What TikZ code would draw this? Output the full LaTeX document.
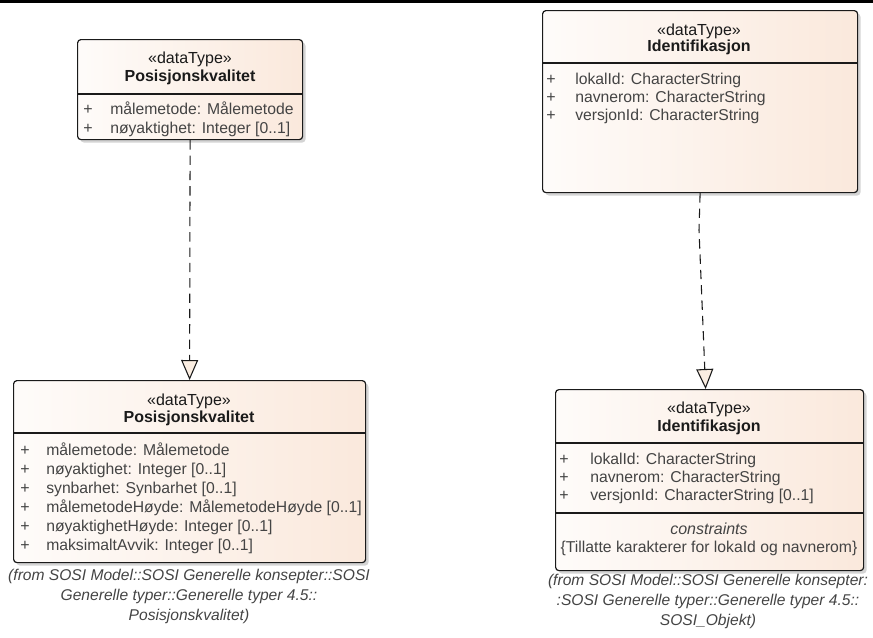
\documentclass[tikz,border=0pt]{standalone}
\usepackage{fontspec}
\setmainfont{Liberation Sans}
\usepackage{tikz}
\usetikzlibrary{arrows.meta,positioning,shadows,calc}
\definecolor{umlpeach}{HTML}{F8DFCD}
\definecolor{umlcream}{HTML}{FBEEE2}
\definecolor{umlink}{HTML}{1A1A1A}
\definecolor{umltext}{HTML}{444444}
\pgfdeclarehorizontalshading{umlfill}{100bp}{color(0bp)=(umlpeach!75); color(16bp)=(white); color(100bp)=(umlpeach)}
\tikzset{
  classbox/.style={draw=umlink,line width=0.9pt,rounded corners=2.5pt,shading=umlfill,
    anchor=north west,inner sep=0pt,
    drop shadow={shadow xshift=2.2pt,shadow yshift=-2.2pt,opacity=0.28,fill=black!60}},
  stereo/.style={anchor=mid,inner sep=0pt,text=umlink},
  cname/.style={anchor=mid,inner sep=0pt,text=umlink,font=\fontsize{12}{14}\selectfont\bfseries},
  attr/.style={anchor=mid west,inner sep=0pt,text=umltext,font=\fontsize{11.8}{14}\selectfont},
  vis/.style={anchor=mid,inner sep=0pt,text=umltext},
  capt/.style={anchor=north,inner sep=0pt,align=center,text=umltext,font=\fontsize{11.7}{15}\selectfont\itshape},
  realize/.style={draw=umlink,line width=0.8pt,dash pattern=on 7pt off 4.5pt,
    -{Triangle[length=15pt,width=12.75pt,fill=umlcream]}},
  every node/.style={font=\fontsize{12}{14}\selectfont}
}
\begin{document}
\begin{tikzpicture}[x=0.75pt,y=-0.75pt]
  \useasboundingbox (0,0) rectangle (873,637);
  \draw[line width=1.6pt] (0,1.5) -- (873,1.5);

  % upper left: Posisjonskvalitet
  \node[classbox,minimum width=168.75pt,minimum height=75pt] (posA) at (77,39) {};
  \draw[umlink,line width=0.8pt] (posA.west |- 0,94) -- (posA.east |- 0,94);
  \node[stereo] (posAst) at (190,60) {«dataType»};
  \node[cname] (posAnm) at (190,78) {Posisjonskvalitet};
  \node[vis] at (88,111) {+};
  \node[attr] at (110,111) {målemetode: Målemetode};
  \node[vis] at (88,130) {+};
  \node[attr] at (110,130) {nøyaktighet: Integer [0..1]};

  % upper right: Identifikasjon
  \node[classbox,minimum width=236.25pt,minimum height=136.5pt] (idA) at (542,10) {};
  \draw[umlink,line width=0.8pt] (idA.west |- 0,63) -- (idA.east |- 0,63);
  \node[stereo] (idAst) at (699,32) {«dataType»};
  \node[cname] (idAnm) at (699,48) {Identifikasjon};
  \foreach \yy/\txt in {81/lokalId: CharacterString,99/navnerom: CharacterString,117/versjonId: CharacterString}{
    \node[vis] at (551,\yy) {+};
    \node[attr] at (575,\yy) {\txt};
  }

  % lower left: Posisjonskvalitet (SOSI Generelle typer)
  \node[classbox,minimum width=264pt,minimum height=136.5pt] (posB) at (13,380) {};
  \draw[umlink,line width=0.8pt] (posB.west |- 0,433) -- (posB.east |- 0,433);
  \node[stereo] (posBst) at (189,402) {«dataType»};
  \node[cname] (posBnm) at (189,419) {Posisjonskvalitet};
  \foreach \yy/\txt in {452/målemetode: Målemetode,
                        470.5/nøyaktighet: Integer [0..1],
                        489.5/synbarhet: Synbarhet [0..1],
                        508.5/målemetodeHøyde: MålemetodeHøyde [0..1],
                        528/nøyaktighetHøyde: Integer [0..1],
                        547/maksimaltAvvik: Integer [0..1]}{
    \node[vis] at (25,\yy) {+};
    \node[attr] at (46,\yy) {\txt};
  }
  \node[capt] (posBcap) at (189,569) {(from SOSI Model::SOSI Generelle konsepter::SOSI\\
    Generelle typer::Generelle typer 4.5::\\ Posisjonskvalitet)};

  % lower right: Identifikasjon (SOSI_Objekt)
  \node[classbox,minimum width=231pt,minimum height=135.75pt] (idB) at (555,389) {};
  \draw[umlink,line width=0.8pt] (idB.west |- 0,443) -- (idB.east |- 0,443);
  \draw[umlink,line width=0.8pt] (idB.west |- 0,513) -- (idB.east |- 0,513);
  \node[stereo] (idBst) at (709,410) {«dataType»};
  \node[cname] (idBnm) at (709,428) {Identifikasjon};
  \foreach \yy/\txt in {461/lokalId: CharacterString,479/navnerom: CharacterString,497/versjonId: CharacterString [0..1]}{
    \node[vis] at (564,\yy) {+};
    \node[attr] at (590,\yy) {\txt};
  }
  \node[stereo,text=umltext,font=\fontsize{12}{14}\selectfont\itshape] (idBcon) at (709,531) {constraints};
  \node[stereo,text=umltext,font=\fontsize{11.8}{14}\selectfont] (idBrule) at (709,549) {\{Tillatte karakterer for lokaId og navnerom\}};
  \node[capt] (idBcap) at (708,574) {(from SOSI Model::SOSI Generelle konsepter:\\
    :SOSI Generelle typer::Generelle typer 4.5::\\ SOSI\_Objekt)};

  % realisation links
  \draw[realize] (posA.south) -- (posB.north);
  \coordinate (idbend) at (699,230);
  \draw[realize] (idA.south) -- (idbend) -- ([xshift=-3pt]idB.north);
\end{tikzpicture}
\end{document}
